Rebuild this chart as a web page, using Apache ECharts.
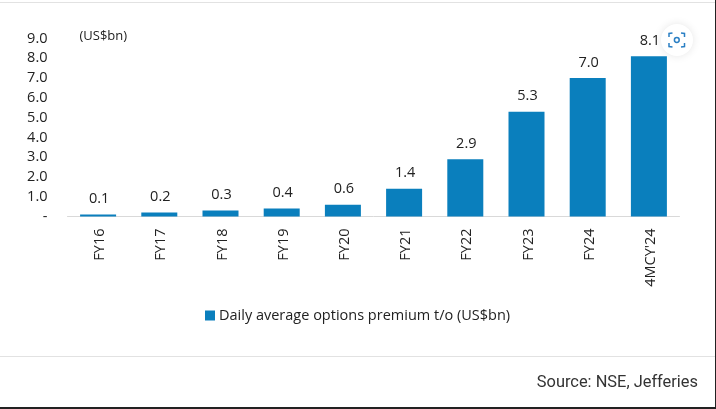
<!DOCTYPE html>
<html><head><meta charset="utf-8">
<style>html,body{margin:0;padding:0;background:#fff}#c{width:716px;height:409px}</style>
<script src="https://cdn.jsdelivr.net/npm/echarts@6/dist/echarts.min.js"></script>
</head><body><div id="c"></div>
<script>
const categories = ['FY16','FY17','FY18','FY19','FY20','FY21','FY22','FY23','FY24',"4MCY'24"];
const values = [0.1,0.2,0.3,0.4,0.6,1.4,2.9,5.3,7.0,8.1];
const yTickLabels = ['-','1.0','2.0','3.0','4.0','5.0','6.0','7.0','8.0','9.0'];
const seriesName = 'Daily average options premium t/o (US$bn)';
const unitNote = '(US$bn)';
const sourceNote = 'Source: NSE, Jefferies';
const F = '"Open Sans","Noto Sans",sans-serif';
const chart = echarts.init(document.getElementById('c'), null, {renderer:'canvas'});
chart.setOption({
  animation:false,
  backgroundColor:'#fff',
  grid:{left:67.5,right:36.5,top:38.5,bottom:192.5,containLabel:false},
  legend:{show:true,left:200,top:303,itemWidth:10,itemHeight:10,itemGap:4,icon:'rect',
    textStyle:{fontFamily:F,fontSize:14.5,color:'#222',padding:[0,0,0,-1]},data:[seriesName]},
  xAxis:{type:'category',data:categories,
    axisLine:{lineStyle:{color:'#d9d9d9',width:1}},axisTick:{show:false},
    axisLabel:{rotate:90,fontFamily:F,fontSize:14.5,color:'#222',margin:12,interval:0,verticalAlign:'top',lineHeight:4}},
  yAxis:{type:'value',min:0,max:9,interval:1,splitLine:{show:false},axisLine:{show:false},axisTick:{show:false},
    axisLabel:{fontFamily:F,fontSize:14.5,color:'#222',margin:20,align:'right',padding:[2,0,0,0],
      formatter:(v)=>yTickLabels[Math.round(v)]}},
  series:[{name:seriesName,type:'bar',data:values,barWidth:36,
    itemStyle:{color:'#0a7fbd'},
    label:{show:true,position:'top',distance:8,offset:[1,0],fontFamily:F,fontSize:14.5,color:'#222',formatter:(p)=>p.value.toFixed(1)}}],
  graphic:[
    {type:'text',left:79.5,top:29.5,style:{text:unitNote,font:'13px '+F,fill:'#222'}},
    {type:'text',right:18,top:375,style:{text:sourceNote,font:'400 16.4px Roboto',fill:'#333'}},
    {type:'rect',shape:{x:0,y:2,width:716,height:1},style:{fill:'#e2e2e2'}},
    {type:'rect',shape:{x:0,y:356,width:716,height:1},style:{fill:'#e2e2e2'}},
    {type:'rect',shape:{x:715,y:0,width:1,height:409},style:{fill:'#222'}},
    {type:'rect',shape:{x:0,y:407,width:716,height:2},style:{fill:'#222'}},
    {type:'circle',shape:{cx:677,cy:40,r:16},style:{fill:'#fff',shadowBlur:8,shadowColor:'rgba(0,0,0,0.10)'}},
    {type:'polyline',shape:{points:[[669,37],[669,33.5],[672.5,33]]},style:{stroke:'#2a7fc4',fill:null,lineWidth:1.5}},
    {type:'polyline',shape:{points:[[681,33],[684.5,33.5],[684.5,37]]},style:{stroke:'#2a7fc4',fill:null,lineWidth:1.5}},
    {type:'polyline',shape:{points:[[669,43],[669,46.5],[672.5,47]]},style:{stroke:'#2a7fc4',fill:null,lineWidth:1.5}},
    {type:'polyline',shape:{points:[[681,47],[684.5,46.5],[684.5,43]]},style:{stroke:'#2a7fc4',fill:null,lineWidth:1.5}},
    {type:'circle',shape:{cx:676.8,cy:40,r:2.4},style:{fill:null,stroke:'#2a7fc4',lineWidth:1.5}}
  ]
});
</script></body></html>
